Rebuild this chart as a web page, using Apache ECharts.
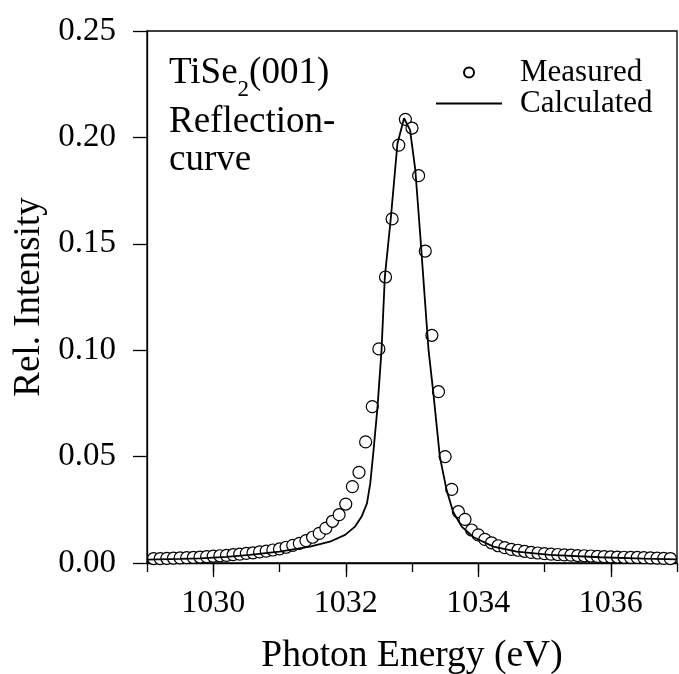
<!DOCTYPE html>
<html>
<head>
<meta charset="utf-8">
<script src="https://cdn.jsdelivr.net/npm/echarts@6/dist/echarts.min.js"></script>
<style>
html,body{margin:0;padding:0;background:#fff;}
#chart{width:679px;height:674px;}
</style>
</head>
<body>
<div id="chart"></div>
<script>
// Measured points (photon energy in eV, relative intensity)
var measuredX = [
  1029.1,1029.2,1029.3,1029.4,1029.5,1029.6,1029.7,1029.8,1029.9,1030.0,
  1030.1,1030.2,1030.3,1030.4,1030.5,1030.6,1030.7,1030.8,1030.9,1031.0,
  1031.1,1031.2,1031.3,1031.4,1031.5,1031.6,1031.7,1031.8,1031.9,1032.0,
  1032.1,1032.2,1032.3,1032.4,1032.5,1032.6,1032.7,1032.8,1032.9,1033.0,
  1033.1,1033.2,1033.3,1033.4,1033.5,1033.6,1033.7,1033.8,1033.9,1034.0,
  1034.1,1034.2,1034.3,1034.4,1034.5,1034.6,1034.7,1034.8,1034.9,1035.0,
  1035.1,1035.2,1035.3,1035.4,1035.5,1035.6,1035.7,1035.8,1035.9,1036.0,
  1036.1,1036.2,1036.3,1036.4,1036.5,1036.6,1036.7,1036.8,1036.9
];
var measuredY = [
  0.0021,0.0021,0.0022,0.0023,0.0024,0.0025,0.0026,0.0028,0.0030,0.0032,
  0.0034,0.0036,0.0039,0.0042,0.0045,0.0048,0.0052,0.0056,0.0061,0.0066,
  0.0074,0.0083,0.0092,0.0105,0.0121,0.0139,0.0164,0.0196,0.0227,0.0277,
  0.0359,0.0426,0.0569,0.0735,0.1006,0.1344,0.1617,0.1964,0.2085,0.2044,
  0.1820,0.1466,0.1070,0.0805,0.0500,0.0346,0.0241,0.0205,0.0155,0.0132,
  0.0111,0.0095,0.0081,0.0072,0.0064,0.0060,0.0055,0.0050,0.0047,0.0044,
  0.0042,0.0040,0.0038,0.0037,0.0035,0.0034,0.0033,0.0031,0.0030,0.0029,
  0.0028,0.0027,0.0026,0.0026,0.0025,0.0024,0.0023,0.0022,0.0021
];
// Calculated curve
var calcX = [
  1029.0,1029.5,1029.8,1030.2,1030.55,1031.0,1031.46,1031.76,1031.99,1032.14,
  1032.24,1032.32,1032.37,1032.42,1032.48,1032.54,1032.59,1032.68,1032.78,1032.88,
  1032.97,1033.05,1033.13,1033.18,1033.25,1033.32,1033.42,1033.52,1033.62,1033.75,
  1033.93,1034.23,1034.58,1035.08,1035.84,1036.5,1037.0
];
var calcY = [
  0.0016,0.0019,0.0022,0.0029,0.0038,0.0053,0.0077,0.0100,0.0132,0.0171,
  0.0218,0.0280,0.0374,0.0531,0.0735,0.1000,0.1345,0.1620,0.1970,0.2090,
  0.2035,0.1847,0.1518,0.1300,0.1000,0.0805,0.0500,0.0346,0.0241,0.0171,
  0.0121,0.0077,0.0053,0.0038,0.0027,0.0021,0.0017
];
var xMajorTicks = [1030, 1032, 1034, 1036];
var seriesNames = ['Measured', 'Calculated'];
var noteLines = ['TiSe', '2', '(001)', 'Reflection-', 'curve'];

var FONT = '"Liberation Serif","Times New Roman",serif';
var NOTE_SIZE = 37, SUB_SIZE = 23;

var measuredData = measuredX.map(function (x, i) { return [x, measuredY[i]]; });
var calcData = calcX.map(function (x, i) { return [x, calcY[i]]; });

// measure text widths for the annotation with subscript
var mctx = document.createElement('canvas').getContext('2d');
function textW(t, size) { mctx.font = size + 'px ' + FONT; return mctx.measureText(t).width; }
var noteX = 169;
var w1 = textW(noteLines[0], NOTE_SIZE);
var w2 = textW(noteLines[1], SUB_SIZE);

function noteText(t, x, y, size) {
  return {
    type: 'text', x: x, y: y, silent: true,
    style: {text: t, font: size + 'px ' + FONT, fill: '#000', align: 'left', verticalAlign: 'middle'}
  };
}

var chart = echarts.init(document.getElementById('chart'), null, {renderer: 'canvas'});
chart.setOption({
  backgroundColor: '#fff',
  animation: false,
  textStyle: {fontFamily: FONT, color: '#000'},
  grid: {
    left: 147, top: 31, right: 2, bottom: 111,
    outerBoundsMode: 'none', containLabel: false,
    show: true, borderColor: '#000', borderWidth: 1.3, backgroundColor: 'transparent'
  },
  legend: {
    orient: 'vertical',
    left: 436, top: 57, padding: 0,
    itemWidth: 66, itemHeight: 10, itemGap: 0,
    textStyle: {fontFamily: FONT, fontSize: 31, color: '#000', lineHeight: 30, padding: [0, 0, 0, 13]},
    data: [
      {name: seriesNames[0], icon: 'circle'},
      {name: seriesNames[1], icon: 'path://M0,0L66,0L66,1.8L0,1.8Z'}
    ]
  },
  xAxis: [
    {
      type: 'value', min: 1029, max: 1037, interval: 1,
      position: 'bottom',
      axisLine: {show: true, onZero: false, lineStyle: {color: '#000', width: 1.3}},
      axisTick: {show: true, inside: false, length: 9, lineStyle: {color: '#000', width: 1.3}},
      axisLabel: {show: false},
      splitLine: {show: false}
    },
    {
      type: 'value', min: 1029, max: 1037, interval: 1,
      position: 'bottom',
      name: 'Photon Energy (eV)',
      nameLocation: 'middle', nameGap: 74,
      nameTextStyle: {fontFamily: FONT, fontSize: 37.5, color: '#000'},
      axisLine: {show: false, onZero: false},
      axisTick: {show: true, inside: false, length: 14, customValues: xMajorTicks, lineStyle: {color: '#000', width: 1.3}},
      axisLabel: {show: true, margin: 25, customValues: xMajorTicks, fontFamily: FONT, fontSize: 32, color: '#000',
        formatter: function (v) { return String(v); }},
      splitLine: {show: false}
    }
  ],
  yAxis: {
    type: 'value', min: 0, max: 0.25, interval: 0.05,
    name: 'Rel. Intensity',
    nameLocation: 'middle', nameGap: 97,
    nameTextStyle: {fontFamily: FONT, fontSize: 37, color: '#000'},
    axisLine: {show: true, onZero: false, lineStyle: {color: '#000', width: 1.3}},
    axisTick: {show: true, inside: false, length: 14, lineStyle: {color: '#000', width: 1.3}},
    axisLabel: {margin: 31, fontFamily: FONT, fontSize: 33, color: '#000',
      formatter: function (v) { return v.toFixed(2); }},
    splitLine: {show: false}
  },
  graphic: [
    noteText(noteLines[0], noteX, 73, NOTE_SIZE),
    noteText(noteLines[1], noteX + w1, 90, SUB_SIZE),
    noteText(noteLines[2], noteX + w1 + w2, 73, NOTE_SIZE),
    noteText(noteLines[3], noteX, 122, NOTE_SIZE),
    noteText(noteLines[4], noteX, 160, NOTE_SIZE)
  ],
  series: [
    {
      name: seriesNames[0],
      type: 'scatter',
      xAxisIndex: 0,
      data: measuredData,
      symbol: 'circle',
      symbolSize: 12,
      itemStyle: {color: '#fff', borderColor: '#000', borderWidth: 1.2, opacity: 1},
      z: 2
    },
    {
      name: seriesNames[1],
      type: 'line',
      xAxisIndex: 0,
      data: calcData,
      showSymbol: false,
      symbol: 'none',
      smooth: false,
      lineStyle: {color: '#000', width: 1.8},
      itemStyle: {color: '#000'},
      z: 3
    }
  ]
});
</script>
</body>
</html>
